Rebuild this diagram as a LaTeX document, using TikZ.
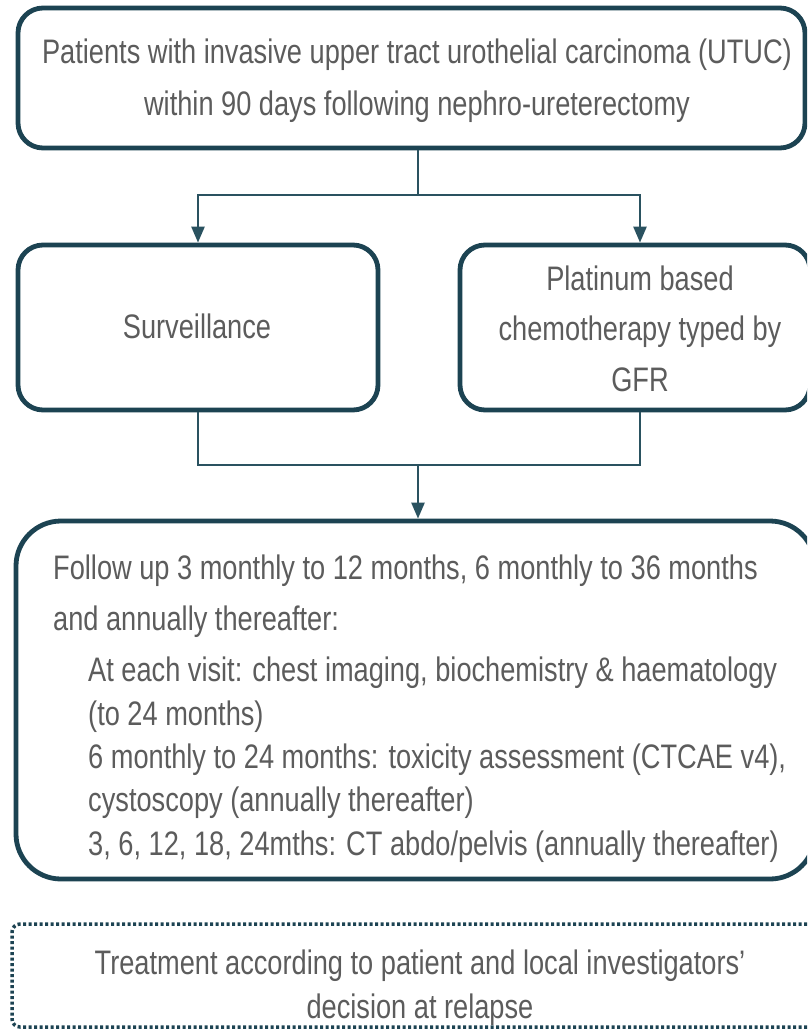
\documentclass[tikz,border=0pt]{standalone}
\usepackage{fontspec}
\setmainfont[FakeStretch=0.8]{Liberation Sans}
\usetikzlibrary{arrows.meta}
\definecolor{edge}{HTML}{1C4352}
\definecolor{link}{HTML}{2A5260}
\definecolor{ink}{HTML}{5C5C5C}
\tikzset{
  boxshape/.style={draw=edge, line width=4.8pt, rectangle, inner sep=0pt},
  dotbox/.style={draw=edge, line width=3.5pt, dash pattern=on 3pt off 2.5pt, rectangle, rounded corners=8pt, inner sep=0pt},
  txt/.style={text=ink, font=\fontsize{34}{40}\selectfont, inner sep=0pt},
  conn/.style={draw=link, line width=2.5pt},
  arr/.style={conn, -{Triangle[length=16pt,width=13pt]}}
}
\begin{document}
\begin{tikzpicture}[x=1pt,y=-1pt]
\useasboundingbox (0,0) rectangle (807,1029);
\clip (0,0) rectangle (807,1029);
\fill[white] (0,0) rectangle (807,1029);

% boxes
\node[boxshape, rounded corners=25pt, minimum width=787pt, minimum height=140pt] (top) at (411.5,78) {};
\node[boxshape, rounded corners=25pt, minimum width=360pt, minimum height=165pt] (left) at (198,327.5) {};
\node[boxshape, rounded corners=25pt, minimum width=350pt, minimum height=165pt] (right) at (635,327.5) {};
\node[boxshape, rounded corners=45pt, minimum width=799pt, minimum height=358pt] (main) at (415.5,700) {};
\node[dotbox, minimum width=803pt, minimum height=103pt] (relapse) at (413.5,975.5) {};

% texts
\node[txt, anchor=base] (t1) at (417,63) {Patients with invasive upper tract urothelial carcinoma (UTUC)};
\node[txt, anchor=base] (t2) at (417,115) {within 90 days following nephro-ureterectomy};
\node[txt, anchor=base] (s1) at (197,338) {Surveillance};
\node[txt, anchor=base] (p1) at (640,290) {Platinum based};
\node[txt, anchor=base] (p2) at (640,340) {chemotherapy typed by};
\node[txt, anchor=base] (p3) at (640,391) {GFR};
\node[txt, anchor=base west] (f1) at (53,579) {Follow up 3 monthly to 12 months, 6 monthly to 36 months};
\node[txt, anchor=base west] (f2) at (53,630) {and annually thereafter:};
\node[txt, anchor=base west] (f3) at (88,681) {At each visit: chest imaging, biochemistry \& haematology};
\node[txt, anchor=base west] (f4) at (88,725) {(to 24 months)};
\node[txt, anchor=base west] (f5) at (88,768) {6 monthly to 24 months: toxicity assessment (CTCAE v4),};
\node[txt, anchor=base west] (f6) at (88,811) {cystoscopy (annually thereafter)};
\node[txt, anchor=base west] (f7) at (88,855) {3, 6, 12, 18, 24mths: CT abdo/pelvis (annually thereafter)};
\node[txt, anchor=base] (r1) at (420,974) {Treatment according to patient and local investigators'};
\node[txt, anchor=base] (r2) at (420,1018) {decision at relapse};

% connectors
\coordinate (j1) at (418,195);
\coordinate (j2) at (418,465);
\draw[conn] (top.south -| j1) -- (j1);
\draw[arr] (j1) -| (left.north);
\draw[arr] (j1) -| (right.north -| p1);
\draw[conn] (left.south) |- (j2);
\draw[conn] (right.south -| p1) |- (j2);
\draw[arr] (j2) -- (main.north -| j2);
\end{tikzpicture}
\end{document}
